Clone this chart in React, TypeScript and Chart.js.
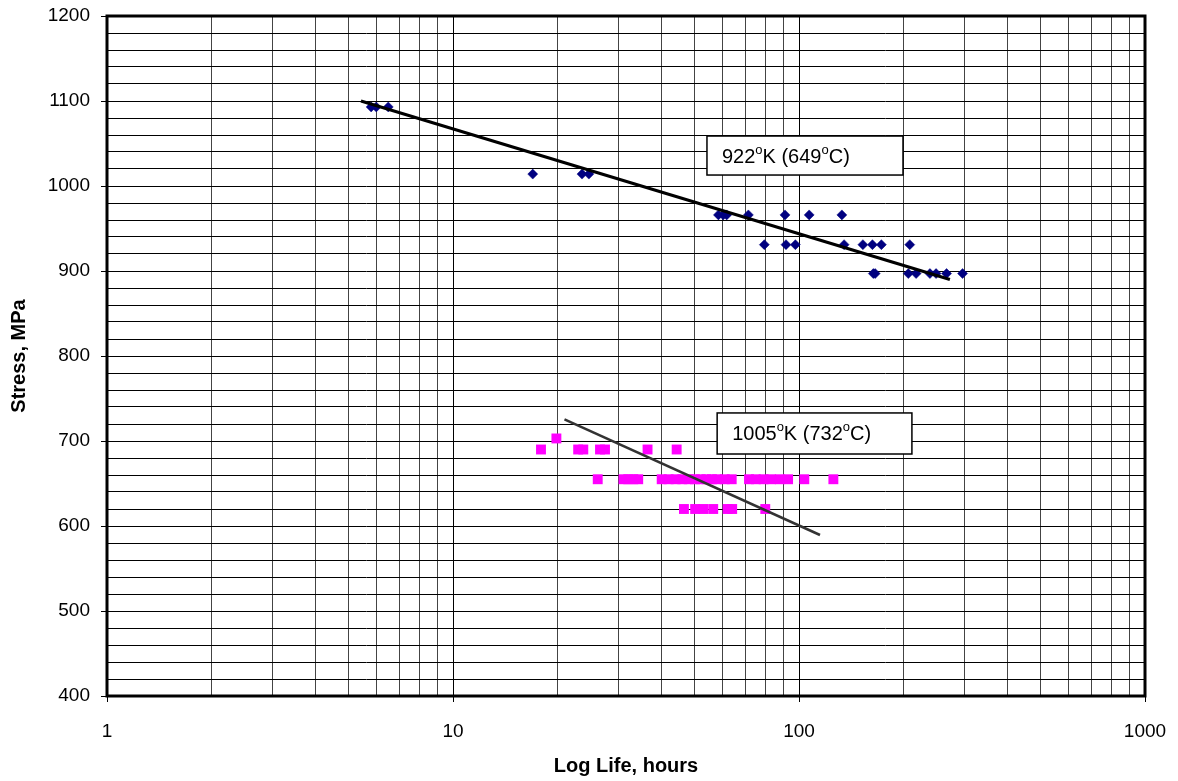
import React, { useEffect, useRef } from "react";
import { Chart, registerables } from "chart.js";

Chart.register(...registerables);

// 922 K series (diamonds)
const blueLife = [5.8, 6.0, 6.5, 17.0, 23.6, 24.7, 58.5, 60.4, 61.8, 71.4, 91.1, 107, 133, 79.4, 91.7, 97.6, 135, 153, 163, 173, 209, 164, 166, 207, 218, 239, 249, 267, 297];
const blueStress = [1093, 1093, 1093, 1014, 1014, 1014, 966, 966, 966, 966, 966, 966, 966, 931, 931, 931, 931, 931, 931, 931, 931, 897, 897, 897, 897, 897, 897, 897, 897];

// 1005 K series (squares)
const pinkLife = [19.9, 17.96, 23.0, 23.8, 26.6, 27.5, 36.5, 44.3, 26.2, 31.1, 32.1, 33.2, 34.3, 40.1, 42, 44, 46, 48, 50, 52, 54, 56, 58, 61, 63.9, 71.7, 75, 79, 83, 88, 93, 103.6, 125.7, 46.5, 50.1, 52.9, 56.5, 62.2, 64.1, 79.9];
const pinkStress = [703, 690, 690, 690, 690, 690, 690, 690, 655, 655, 655, 655, 655, 655, 655, 655, 655, 655, 655, 655, 655, 655, 655, 655, 655, 655, 655, 655, 655, 655, 655, 655, 655, 620, 620, 620, 620, 620, 620, 620];

// Trend lines
const blueTrendLife = [5.42, 273];
const blueTrendStress = [1100, 890];
const pinkTrendLife = [21, 115];
const pinkTrendStress = [725.5, 589.4];

// Axis ticks
const xMajorTicks = [1, 10, 100, 1000];
const xMultipliers = [1, 2, 3, 4, 5, 6, 7, 8, 9];
const yMin = 400;
const yMax = 1200;
const yStep = 20;

// Label boxes: [main, sup, mid, sup, end]
const label1Parts = ["922", "o", "K (649", "o", "C)"];
const label2Parts = ["1005", "o", "K (732", "o", "C)"];
const label1Box = [54.2, 199.8, 1058.8, 1012.9];
const label2Box = [58, 212, 733, 684.7];

const FONT = "'Liberation Sans', Arial, Helvetica, sans-serif";

function toXY(xs: number[], ys: number[]) {
  return xs.map((x, i) => ({ x, y: ys[i] }));
}

export default function App() {
  const ref = useRef<HTMLCanvasElement | null>(null);

  useEffect(() => {
    if (!ref.current) return;
    Chart.defaults.font.family = FONT;
    Chart.defaults.color = "#000";

    const borderPlugin = {
      id: "frameAndLabels",
      afterDatasetsDraw(chart: any) {
        const { ctx, chartArea, scales } = chart;
        ctx.save();
        ctx.strokeStyle = "#000";
        ctx.lineWidth = 3;
        ctx.strokeRect(chartArea.left, chartArea.top, chartArea.right - chartArea.left, chartArea.bottom - chartArea.top);

        const drawBox = (box: number[], parts: string[]) => {
          const x1 = scales.x.getPixelForValue(box[0]);
          const x2 = scales.x.getPixelForValue(box[1]);
          const y1 = scales.y.getPixelForValue(box[2]);
          const y2 = scales.y.getPixelForValue(box[3]);
          ctx.fillStyle = "#fff";
          ctx.fillRect(x1, y1, x2 - x1, y2 - y1);
          ctx.lineWidth = 1.5;
          ctx.strokeStyle = "#000";
          ctx.strokeRect(x1, y1, x2 - x1, y2 - y1);
          let cx = x1 + 15;
          const base = (y1 + y2) / 2 + 7;
          ctx.fillStyle = "#000";
          ctx.textBaseline = "alphabetic";
          ctx.textAlign = "left";
          parts.forEach((p, i) => {
            const sup = i % 2 === 1;
            ctx.font = sup ? `13px ${FONT}` : `20px ${FONT}`;
            ctx.fillText(p, cx, sup ? base - 9 : base);
            cx += ctx.measureText(p).width;
          });
        };
        drawBox(label1Box, label1Parts);
        drawBox(label2Box, label2Parts);
        ctx.restore();
      },
    };

    const chart = new Chart(ref.current, {
      type: "scatter",
      data: {
        datasets: [
          {
            label: "trend922",
            data: toXY(blueTrendLife, blueTrendStress),
            showLine: true,
            borderColor: "#000",
            borderWidth: 3,
            pointRadius: 0,
            order: 0,
          },
          {
            label: "trend1005",
            data: toXY(pinkTrendLife, pinkTrendStress),
            showLine: true,
            borderColor: "#333",
            borderWidth: 2.5,
            pointRadius: 0,
            order: 0,
          },
          {
            label: "922K",
            data: toXY(blueLife, blueStress),
            pointStyle: "rectRot",
            pointRadius: 5,
            backgroundColor: "#000080",
            borderColor: "#000080",
            borderWidth: 0.5,
            order: 1,
          },
          {
            label: "1005K",
            data: toXY(pinkLife, pinkStress),
            pointStyle: "rect",
            pointRadius: 7,
            backgroundColor: "#FF00FF",
            borderColor: "#FF00FF",
            borderWidth: 0,
            order: 1,
          },
        ],
      },
      options: {
        responsive: false,
        animation: false,
        layout: { padding: { top: 16, right: 33, left: 0, bottom: 0 } },
        plugins: { legend: { display: false }, tooltip: { enabled: false } },
        scales: {
          x: {
            type: "logarithmic",
            min: 1,
            max: 1000,
            position: "bottom",
            afterBuildTicks(scale: any) {
              const ticks: any[] = [];
              for (let d = 0; d < xMajorTicks.length - 1; d++) {
                xMultipliers.forEach((m) => ticks.push({ value: xMajorTicks[d] * m }));
              }
              ticks.push({ value: xMajorTicks[xMajorTicks.length - 1] });
              scale.ticks = ticks;
            },
            afterFit(scale: any) {
              scale.height = 85;
              scale.paddingLeft = 0;
              scale.paddingRight = 0;
              scale.paddingTop = 0;
              scale.paddingBottom = 0;
            },
            ticks: {
              autoSkip: false,
              maxRotation: 0,
              padding: 18,
              font: { size: 19 },
              color: "#000",
              callback: (v: any) => (xMajorTicks.includes(Number(v)) ? String(v) : ""),
            },
            grid: {
              color: (c: any) => (c.tick && xMajorTicks.includes(c.tick.value) ? "#000" : "#444"),
              lineWidth: 1,
              tickLength: 6,
              tickColor: (c: any) => (c.tick && xMajorTicks.includes(c.tick.value) ? "#000" : "rgba(0,0,0,0)"),
            },
            border: { display: false },
            title: {
              display: true,
              text: "Log Life, hours",
              font: { size: 20, weight: "bold" },
              color: "#000",
              padding: { top: 0, bottom: 3 },
            },
          },
          y: {
            type: "linear",
            min: yMin,
            max: yMax,
            afterFit(scale: any) {
              scale.width = 107;
              scale.paddingLeft = 0;
              scale.paddingRight = 0;
              scale.paddingTop = 0;
              scale.paddingBottom = 0;
            },
            ticks: {
              stepSize: yStep,
              autoSkip: false,
              padding: 11,
              font: { size: 19 },
              color: "#000",
              callback: (v: any) => (Number(v) % 100 === 0 ? String(v) : ""),
            },
            grid: {
              color: "#000",
              lineWidth: 1,
              tickLength: 6,
              tickColor: (c: any) => (c.tick && c.tick.value % 100 === 0 ? "#000" : "rgba(0,0,0,0)"),
            },
            border: { display: false },
            title: {
              display: true,
              text: "Stress, MPa",
              font: { size: 20, weight: "bold" },
              color: "#000",
              padding: { top: 7, bottom: 0 },
            },
          },
        },
      },
      plugins: [borderPlugin],
    } as any);

    return () => chart.destroy();
  }, []);

  return (
    <div style={{ position: "absolute", left: 0, top: 0, width: 1178, height: 781, background: "#fff" }}>
      <canvas ref={ref} width={1178} height={781} style={{ width: 1178, height: 781, display: "block" }} />
    </div>
  );
}
